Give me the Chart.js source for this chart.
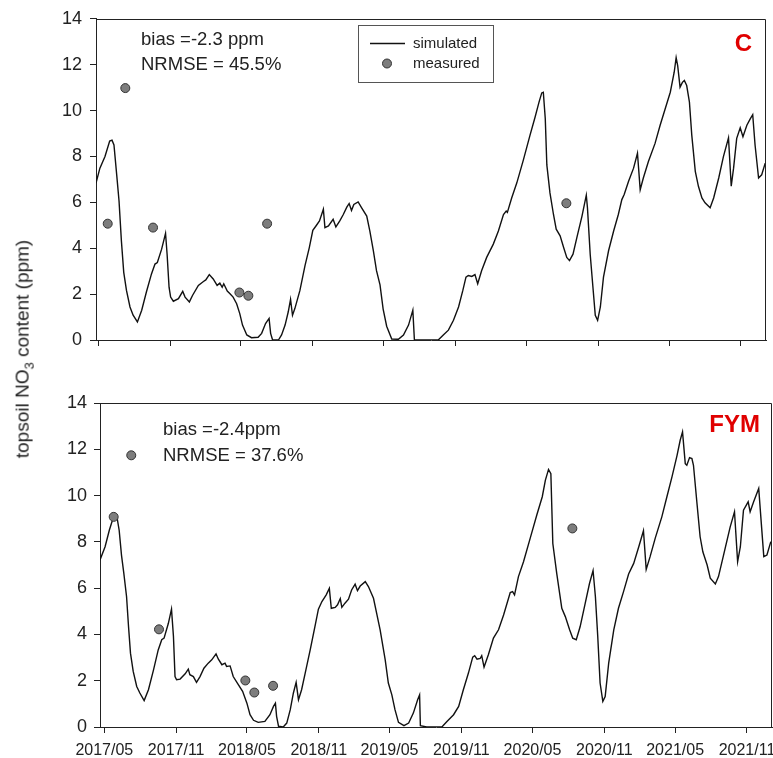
<!DOCTYPE html>
<html>
<head>
<meta charset="utf-8">
<script src="https://cdn.jsdelivr.net/npm/chart.js@4.4.1/dist/chart.umd.min.js"></script>
<style>
  html, body { margin: 0; padding: 0; background: #fff; overflow: hidden; }
  #wrap { position: relative; width: 773px; height: 758px; }
  #top { position: absolute; left: 0; top: 0; }
  #bottom { position: absolute; left: 0; top: 365px; }
  #ytitle {
    position: absolute; left: 24px; top: 349px;
    transform: translate(-50%, -50%) rotate(-90deg);
    white-space: nowrap; color: #222;
    font: 19px "Liberation Sans", Arial, sans-serif;
  }
  #ytitle sub { font-size: 13px; }
</style>
</head>
<body>
<div id="wrap">
  <canvas id="top" width="773" height="365"></canvas>
  <canvas id="bottom" width="773" height="393"></canvas>
  <div id="ytitle">topsoil NO<sub>3</sub> content (ppm)</div>
</div>
<script>
// x values are days since 2017-05-01
const tickLabels = ['2017/05', '2017/11', '2018/05', '2018/11', '2019/05', '2019/11', '2020/05', '2020/11', '2021/05', '2021/11'];

const measDays = [24, 69, 140, 361, 384, 432, 1198];
const measC = [5.07, 10.98, 4.90, 2.07, 1.93, 5.07, 5.96];
const measFYM = [9.08, 11.74, 4.22, 2.01, 1.49, 1.78, 8.58];

const simDaysC = [-6, 4, 17, 29, 35, 40, 47, 53, 59, 65, 72, 81, 89, 100, 111, 123, 136, 145, 151, 162,
  172, 176, 181, 185, 192, 205, 216, 222, 233, 241, 256, 269, 275, 284, 294, 304, 311, 317, 321, 330,
  337, 345, 354, 362, 369, 380, 392, 409, 418, 428, 437, 441, 446, 461, 469, 478, 486, 492, 497, 503,
  516, 529, 540, 549, 557, 566, 576, 580, 589, 601, 608, 618, 627, 636, 642, 648, 654, 665, 674, 687,
  695, 704, 712, 721, 729, 738, 751, 768, 781, 794, 805, 809, 823, 870, 883, 896, 909, 922, 933, 941,
  947, 956, 964, 971, 981, 994, 1011, 1024, 1037, 1044, 1047, 1058, 1071, 1088, 1105, 1118, 1128, 1135, 1139, 1144,
  1148, 1156, 1165, 1172, 1182, 1191, 1199, 1206, 1215, 1225, 1238, 1249, 1252, 1259, 1266, 1272, 1278, 1285, 1293, 1306,
  1319, 1331, 1340, 1346, 1357, 1370, 1380, 1387, 1395, 1408, 1425, 1438, 1451, 1464, 1474, 1479, 1483, 1489, 1495, 1500,
  1506, 1513, 1519, 1528, 1536, 1545, 1553, 1566, 1575, 1588, 1600, 1613, 1620, 1626, 1634, 1643, 1650, 1660, 1669, 1675,
  1681, 1690, 1698, 1707];
const simC = [6.84, 7.49, 8.00, 8.67, 8.71, 8.50, 7.20, 6.05, 4.32, 2.95, 2.16, 1.44, 1.08, 0.79, 1.30, 2.09, 2.88, 3.31, 3.38, 3.96,
  4.65, 3.74, 2.30, 1.87, 1.69, 1.80, 2.12, 1.87, 1.66, 1.94, 2.38, 2.55, 2.62, 2.85, 2.66, 2.38, 2.48, 2.30, 2.45, 2.13,
  2.02, 1.87, 1.58, 1.15, 0.65, 0.22, 0.10, 0.12, 0.29, 0.72, 0.94, 0.29, 0.00, 0.00, 0.22, 0.65, 1.22, 1.77, 1.08, 1.37,
  2.16, 3.24, 4.03, 4.78, 4.97, 5.19, 5.70, 4.90, 4.97, 5.26, 4.93, 5.19, 5.47, 5.79, 5.95, 5.65, 5.91, 6.02, 5.76, 5.40,
  4.75, 3.89, 3.02, 2.40, 1.35, 0.60, 0.04, 0.03, 0.22, 0.65, 1.30, 0.00, 0.00, 0.00, 0.22, 0.43, 0.86, 1.44, 2.16, 2.74,
  2.81, 2.77, 2.85, 2.45, 3.02, 3.60, 4.18, 4.75, 5.47, 5.62, 5.56, 6.19, 6.84, 7.85, 8.93, 9.72, 10.37, 10.77, 10.80, 9.65,
  7.63, 6.41, 5.47, 4.83, 4.54, 4.03, 3.60, 3.46, 3.74, 4.47, 5.40, 6.31, 5.76, 3.74, 2.30, 1.08, 0.86, 1.44, 2.74, 3.89,
  4.75, 5.47, 6.12, 6.34, 6.91, 7.49, 8.14, 6.55, 7.06, 7.78, 8.57, 9.36, 10.08, 10.80, 11.67, 12.31, 11.95, 11.02, 11.23, 11.31,
  11.09, 10.37, 8.93, 7.35, 6.70, 6.19, 5.98, 5.76, 6.19, 7.06, 7.99, 8.81, 6.70, 7.49, 8.79, 9.25, 8.86, 9.36, 9.65, 9.82,
  8.50, 7.06, 7.20, 7.71];

const simDaysFYM = [-11, 2, 13, 21, 27, 33, 38, 44, 50, 57, 62, 67, 74, 83, 91, 102, 113, 126, 138, 147,
  153, 164, 172, 177, 181, 185, 194, 207, 215, 219, 228, 236, 245, 255, 266, 275, 286, 292, 301, 309,
  313, 322, 330, 343, 354, 365, 373, 382, 394, 411, 424, 433, 438, 441, 446, 458, 467, 476, 484, 491,
  497, 505, 516, 527, 540, 548, 557, 568, 576, 581, 591, 597, 604, 608, 616, 625, 633, 642, 648, 655,
  668, 676, 689, 697, 706, 719, 727, 736, 744, 753, 767, 779, 791, 802, 807, 809, 825, 864, 877, 894,
  907, 919, 932, 943, 948, 954, 962, 966, 972, 983, 996, 1009, 1022, 1039, 1045, 1050, 1060, 1073, 1090, 1107,
  1121, 1129, 1137, 1143, 1148, 1158, 1171, 1180, 1191, 1199, 1208, 1218, 1231, 1242, 1251, 1257, 1263, 1269, 1276, 1282,
  1291, 1304, 1316, 1329, 1342, 1355, 1368, 1380, 1387, 1397, 1410, 1427, 1440, 1453, 1466, 1474, 1480, 1487, 1491, 1498,
  1504, 1508, 1517, 1525, 1532, 1543, 1551, 1564, 1572, 1585, 1602, 1613, 1621, 1628, 1636, 1648, 1653, 1662, 1675, 1681,
  1688, 1696, 1706];
const simFYM = [7.22, 7.79, 8.51, 8.94, 9.11, 9.01, 8.51, 7.43, 6.64, 5.63, 4.34, 3.19, 2.40, 1.75, 1.47, 1.14, 1.61, 2.47, 3.33, 3.77,
  3.84, 4.48, 5.09, 3.91, 2.18, 2.04, 2.07, 2.30, 2.50, 2.26, 2.18, 1.93, 2.18, 2.54, 2.76, 2.90, 3.16, 2.93, 2.69, 2.76,
  2.62, 2.64, 2.18, 1.83, 1.54, 1.03, 0.53, 0.29, 0.20, 0.24, 0.53, 0.89, 1.03, 0.46, 0.03, 0.00, 0.17, 0.75, 1.47, 1.93,
  1.18, 1.61, 2.47, 3.33, 4.41, 5.09, 5.42, 5.71, 5.99, 5.13, 5.17, 5.28, 5.55, 5.17, 5.35, 5.52, 5.92, 6.17, 5.89, 6.09,
  6.28, 6.07, 5.56, 4.92, 4.20, 2.90, 1.90, 1.39, 0.75, 0.20, 0.06, 0.17, 0.60, 1.18, 1.39, 0.06, 0.00, 0.00, 0.24, 0.53,
  0.89, 1.61, 2.33, 3.02, 3.08, 2.93, 2.96, 3.08, 2.59, 3.12, 3.84, 4.20, 4.84, 5.81, 5.85, 5.71, 6.50, 7.14, 8.15, 9.16,
  9.95, 10.67, 11.13, 10.95, 7.93, 6.64, 5.13, 4.77, 4.20, 3.84, 3.77, 4.34, 5.35, 6.21, 6.76, 5.63, 3.91, 1.90, 1.11, 1.32,
  2.76, 4.20, 5.13, 5.85, 6.61, 7.07, 7.79, 8.48, 6.81, 7.36, 8.15, 9.08, 9.95, 10.81, 11.74, 12.39, 12.75, 11.38, 11.31, 11.64,
  11.60, 11.31, 9.66, 8.22, 7.57, 7.00, 6.43, 6.18, 6.50, 7.43, 8.65, 9.30, 7.14, 7.79, 9.37, 9.73, 9.30, 9.73, 10.31, 8.94,
  7.36, 7.43, 8.01];

const DAY = 86400000;
const ORIGIN = Date.UTC(2017, 4, 1);
const tickDays = tickLabels.map(s => {
  const [y, m] = s.split('/').map(Number);
  return Math.round((Date.UTC(y, m - 1, 1) - ORIGIN) / DAY);
});

Chart.defaults.font.family = '"Liberation Sans", Arial, sans-serif';
Chart.defaults.color = '#222';

const panelDecor = {
  id: 'panelDecor',
  afterDraw(chart, args, o) {
    const { ctx, chartArea: a } = chart;
    ctx.save();
    ctx.strokeStyle = '#222';
    ctx.lineWidth = 1;
    ctx.beginPath();
    ctx.moveTo(Math.round(a.left) + 0.5, Math.round(a.top) + 0.5);
    ctx.lineTo(Math.round(a.right) - 0.5, Math.round(a.top) + 0.5);
    ctx.lineTo(Math.round(a.right) - 0.5, Math.round(a.bottom));
    ctx.stroke();

    ctx.fillStyle = '#222';
    ctx.textBaseline = 'middle';
    ctx.font = '18.5px "Liberation Sans", Arial, sans-serif';
    o.notes.forEach((t, i) => ctx.fillText(t, o.noteX, o.noteY + i * o.noteGap));

    ctx.fillStyle = '#e00000';
    ctx.textAlign = 'right';
    ctx.font = 'bold 24px "Liberation Sans", Arial, sans-serif';
    ctx.fillText(o.label, o.labelX, o.labelY);

    if (o.legend) {
      const [sim, meas] = chart.data.datasets;
      ctx.textAlign = 'left';
      ctx.strokeStyle = '#555';
      ctx.strokeRect(358.5, 25.5, 135, 57);
      ctx.strokeStyle = sim.borderColor;
      ctx.lineWidth = sim.borderWidth;
      ctx.beginPath();
      ctx.moveTo(370, 43.5);
      ctx.lineTo(405, 43.5);
      ctx.stroke();
      ctx.beginPath();
      ctx.arc(387, 63.5, meas.pointRadius, 0, Math.PI * 2);
      ctx.fillStyle = meas.backgroundColor;
      ctx.fill();
      ctx.lineWidth = 1;
      ctx.strokeStyle = meas.borderColor;
      ctx.stroke();
      ctx.fillStyle = '#222';
      ctx.font = '15px "Liberation Sans", Arial, sans-serif';
      ctx.fillText(sim.label, 413, 44);
      ctx.fillText(meas.label, 413, 64);
    }
    ctx.restore();
  }
};

function makePanel(id, simDays, simVals, measVals, p) {
  return new Chart(document.getElementById(id), {
    type: 'scatter',
    data: {
      datasets: [{
        label: 'simulated',
        data: simDays.map((d, i) => ({ x: d, y: simVals[i] })),
        showLine: true,
        borderColor: '#111',
        borderWidth: 1.4,
        pointRadius: 0,
        tension: 0,
        order: 2
      }, {
        label: 'measured',
        data: measDays.map((d, i) => ({ x: d, y: measVals[i] })),
        pointRadius: 4.5,
        backgroundColor: '#7d7d7d',
        borderColor: '#333',
        borderWidth: 1,
        order: 1
      }]
    },
    options: {
      responsive: false,
      animation: false,
      layout: { autoPadding: false, padding: { left: 0, right: p.padRight, top: p.padTop, bottom: 0 } },
      plugins: {
        legend: { display: false },
        tooltip: { enabled: false },
        panelDecor: p.decor
      },
      scales: {
        x: {
          type: 'linear',
          min: p.xMin,
          max: 1709,
          afterBuildTicks: s => { s.ticks = tickDays.map(v => ({ value: v })); },
          afterFit: s => { s.height = p.xHeight; s.paddingLeft = 0; s.paddingRight = 0; },
          ticks: {
            display: p.showXLabels,
            autoSkip: false,
            maxRotation: 0,
            padding: 8,
            font: { size: 16 },
            callback: v => tickLabels[tickDays.indexOf(v)]
          },
          grid: { drawOnChartArea: false, tickLength: 6, color: '#222' },
          border: { color: '#222' }
        },
        y: {
          min: 0,
          max: 14,
          afterFit: s => { s.width = p.yWidth; },
          ticks: { stepSize: 2, padding: p.yPad, font: { size: 18 } },
          grid: { drawOnChartArea: false, tickLength: 6, color: '#222' },
          border: { color: '#222' }
        }
      }
    },
    plugins: [panelDecor]
  });
}

makePanel('top', simDaysC, simC, measC, {
  xMin: -6, padRight: 7, padTop: 16, xHeight: 25, yWidth: 96, yPad: 8, showXLabels: false,
  decor: { notes: ['bias =-2.3 ppm', 'NRMSE = 45.5%'], noteX: 141, noteY: 40, noteGap: 25,
    label: 'C', labelX: 752, labelY: 44, legend: true }
});

makePanel('bottom', simDaysFYM, simFYM, measFYM, {
  xMin: -11, padRight: 1, padTop: 38, xHeight: 31, yWidth: 100, yPad: 7, showXLabels: true,
  decor: { notes: ['bias =-2.4ppm', 'NRMSE = 37.6%'], noteX: 163, noteY: 65, noteGap: 26,
    label: 'FYM', labelX: 760, labelY: 60, legend: false }
});
</script>
</body>
</html>
